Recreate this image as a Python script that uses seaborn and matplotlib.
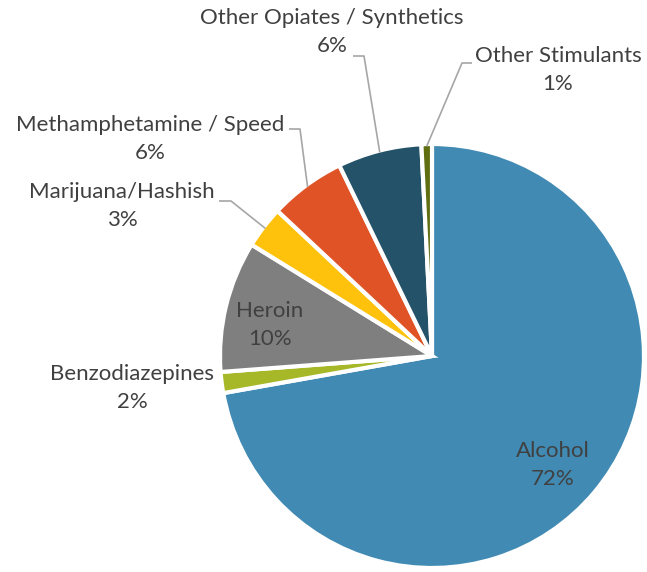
import matplotlib.pyplot as plt
import numpy as np
import seaborn as sns

# values (percent of total)
categories = ['Alcohol', 'Benzodiazepines', 'Heroin', 'Marijuana/Hashish',
              'Methamphetamine / Speed', 'Other Opiates / Synthetics',
              'Other Stimulants']
shares = [72.2, 1.6, 10.0, 3.2, 5.8, 6.4, 0.8]
pct_labels = ['72%', '2%', '10%', '3%', '6%', '6%', '1%']
colors = ['#418AB3', '#A6B727', '#7F7F7F', '#FEC20C',
          '#DF5327', '#245369', '#606E12']

sns.set_theme(style='white')
plt.rcParams['font.family'] = ['Lato', 'DejaVu Sans']

TXT = '#404040'
LINE = '#A6A6A6'
FS = 16

fig = plt.figure(figsize=(6.47, 5.72), dpi=100)
ax = fig.add_axes([0, 0, 1, 1])

wedges, _ = ax.pie(shares, colors=colors, startangle=90, counterclock=False,
                   wedgeprops=dict(edgecolor='white', linewidth=3))

# pixel layout of the reference: centre (432, 356), radius 212
ax.set_xlim(-432 / 212, (647 - 432) / 212)
ax.set_ylim(-(572 - 356) / 212, 356 / 212)
ax.set_aspect('equal')
ax.axis('off')


def px(x, y):
    return (x - 432) / 212, (356 - y) / 212


def edge_point(w, r=0.99):
    ang = np.deg2rad((w.theta1 + w.theta2) / 2)
    return r * np.cos(ang), r * np.sin(ang)


# label placement (pixels), start and knee of the leader line
layout = {
    'Alcohol': ((553, 465), None, None),
    'Benzodiazepines': ((132, 388), None, None),
    'Heroin': ((270, 325), None, None),
    'Marijuana/Hashish': ((122, 206), (219, 201), (231, 201)),
    'Methamphetamine / Speed': ((150, 139), (289, 129), (300, 129)),
    'Other Opiates / Synthetics': ((332, 32), (353, 56), (364, 56)),
    'Other Stimulants': ((558, 70), (472, 63), (462, 63)),
}

for w, name, pct in zip(wedges, categories, pct_labels):
    (tx, ty), start, knee = layout[name]
    ax.text(*px(tx, ty), f'{name}\n{pct}', ha='center', va='center',
            fontsize=FS, color=TXT, linespacing=1.45)
    if start is not None:
        ex, ey = edge_point(w)
        xs = [px(*start)[0], px(*knee)[0], ex]
        ys = [px(*start)[1], px(*knee)[1], ey]
        ax.plot(xs, ys, color=LINE, lw=1.2, solid_capstyle='butt')

fig.savefig('out.png', dpi=100, facecolor='white')
